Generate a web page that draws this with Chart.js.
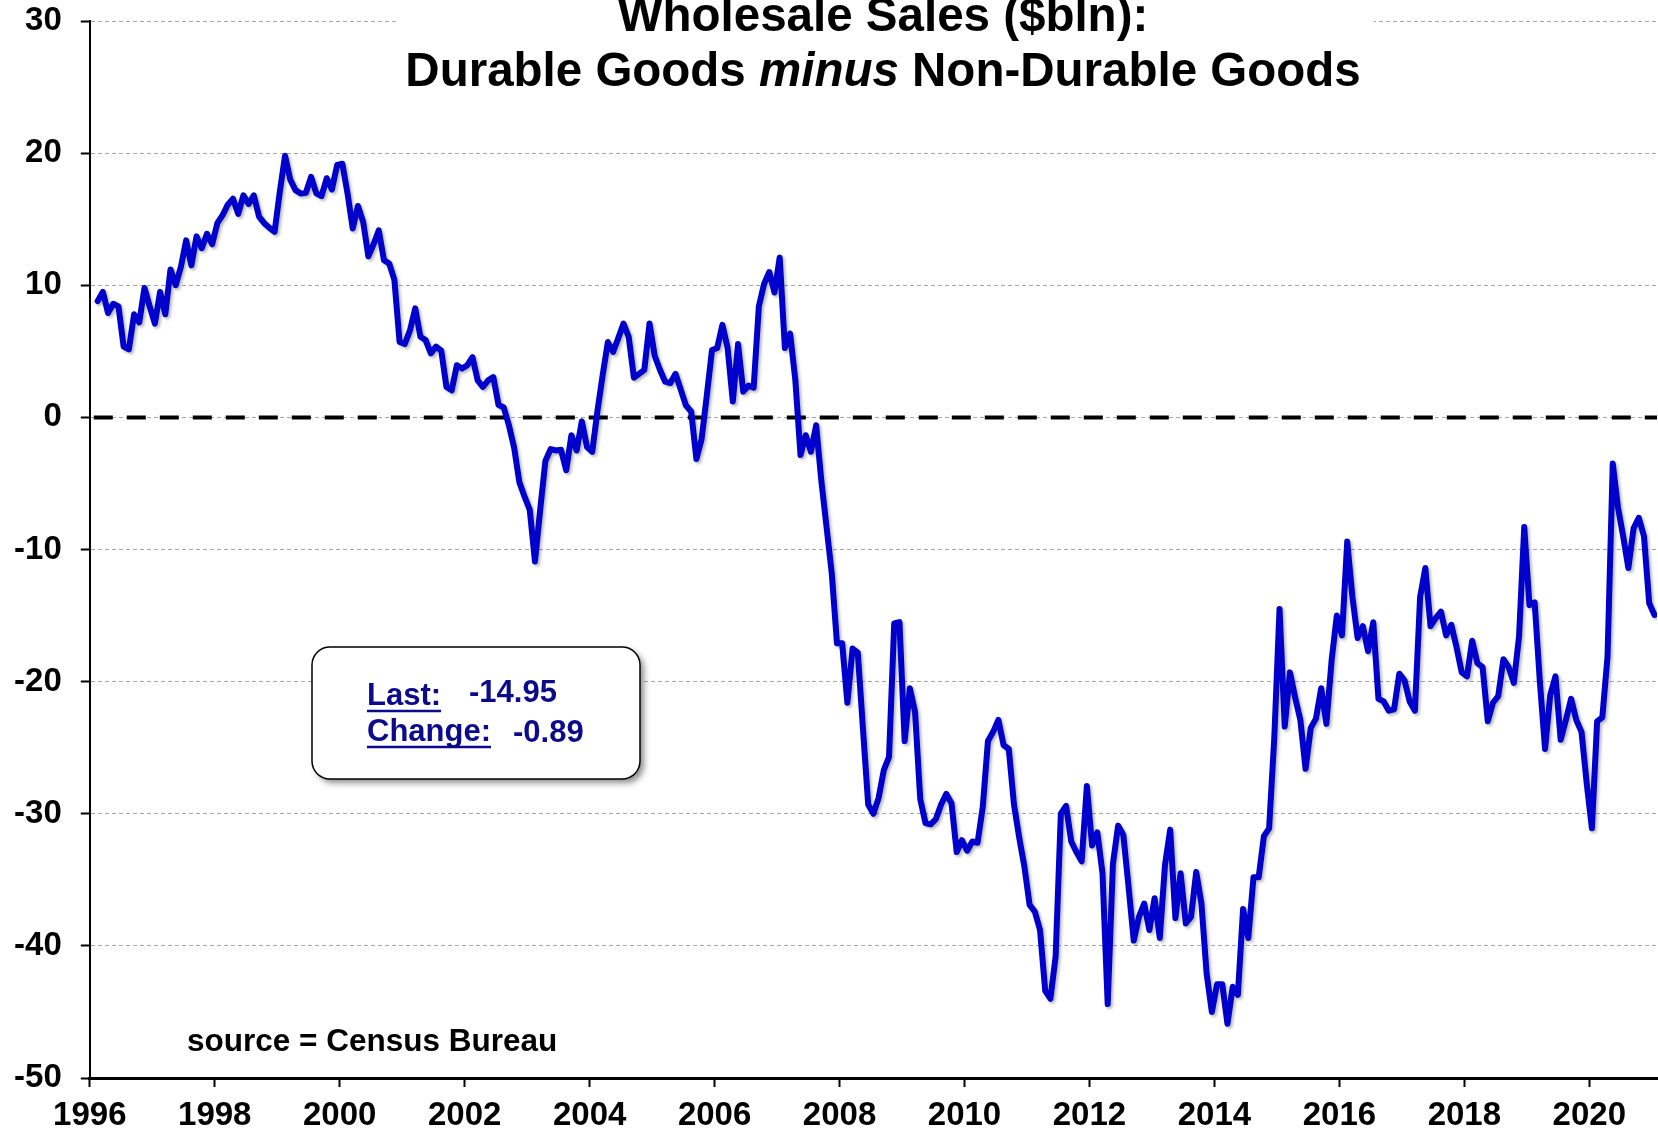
<!DOCTYPE html>
<html>
<head>
<meta charset="utf-8">
<script src="https://cdn.jsdelivr.net/npm/chart.js@4.4.1/dist/chart.umd.min.js"></script>
<style>
  html, body { margin: 0; padding: 0; background: #fff; }
  canvas { display: block; }
</style>
</head>
<body>
<canvas id="myChart" width="1658" height="1131"></canvas>
<script>
"use strict";

// monthly series, Feb 1996 .. Jan 2021 ($bln)
var startYear = 1996;
var startMonth = 2;
var values = [
    8.8, 9.5, 7.9, 8.6, 8.4, 5.35, 5.15, 7.8, 7.2, 9.8, 8.4, 7.1,
    9.5, 7.8, 11.2, 10.0, 11.4, 13.4, 11.5, 13.7, 12.8, 13.9, 13.1, 14.7,
    15.3, 16.1, 16.55, 15.4, 16.8, 16.15, 16.8, 15.2, 14.7, 14.35, 14.05, 17.1,
    19.8, 18.0, 17.2, 16.95, 17.0, 18.2, 16.95, 16.75, 18.1, 17.25, 19.1, 19.2,
    16.95, 14.3, 16.0, 14.8, 12.2, 13.1, 14.15, 11.9, 11.65, 10.4, 5.7, 5.55,
    6.6, 8.25, 6.1, 5.85, 4.85, 5.35, 5.05, 2.3, 2.05, 3.95, 3.7, 3.95,
    4.55, 2.8, 2.3, 2.8, 3.05, 0.95, 0.75, -0.6, -2.3, -4.9, -6.0, -7.0,
    -10.9, -7.0, -3.3, -2.4, -2.5, -2.45, -4.0, -1.35, -2.5, -0.3, -2.25, -2.6,
    0.5, 3.2, 5.7, 4.95, 6.0, 7.1, 6.1, 3.0, 3.3, 3.6, 7.1, 4.65,
    3.6, 2.7, 2.6, 3.3, 2.1, 0.9, 0.45, -3.15, -1.65, 1.65, 5.1, 5.25,
    7.0, 5.25, 1.2, 5.55, 1.95, 2.4, 2.25, 8.4, 10.1, 11.0, 9.45, 12.1,
    5.25, 6.35, 2.85, -2.85, -1.35, -2.6, -0.6, -4.8, -8.3, -11.8, -17.1, -17.1,
    -21.6, -17.5, -17.8, -23.6, -29.3, -30.0, -28.8, -26.7, -25.7, -15.6, -15.5, -24.5,
    -20.5, -22.3, -28.9, -30.7, -30.8, -30.4, -29.3, -28.5, -29.2, -32.9, -32.0, -32.8,
    -32.1, -32.2, -29.5, -24.5, -23.8, -22.9, -24.8, -25.1, -29.3, -31.8, -34.0, -36.9,
    -37.4, -38.8, -43.4, -44.0, -40.8, -30.0, -29.4, -32.1, -32.9, -33.6, -27.9, -32.4,
    -31.4, -34.5, -44.4, -33.8, -30.9, -31.6, -35.5, -39.6, -37.8, -36.8, -38.8, -36.4,
    -39.4, -33.9, -31.2, -37.9, -34.5, -38.3, -37.8, -34.4, -36.8, -42.1, -45.0, -42.9,
    -42.9, -45.9, -43.1, -43.7, -37.2, -39.4, -34.8, -34.8, -31.7, -31.1, -24.2, -14.5,
    -23.4, -19.3, -21.2, -22.9, -26.6, -23.5, -22.8, -20.5, -23.2, -18.4, -15.0, -16.5,
    -9.4, -13.6, -16.7, -15.8, -17.7, -15.5, -21.3, -21.5, -22.2, -22.1, -19.4, -19.9,
    -21.5, -22.2, -13.6, -11.4, -15.8, -15.2, -14.7, -16.5, -15.7, -17.4, -19.3, -19.6,
    -16.9, -18.6, -18.9, -23.0, -21.6, -21.1, -18.3, -18.9, -20.1, -16.6, -8.3, -14.2,
    -14.0, -20.0, -25.1, -21.0, -19.6, -24.4, -22.9, -21.3, -22.9, -23.8, -27.7, -31.1,
    -23.0, -22.7, -18.1, -3.5, -6.8, -9.0, -11.4, -8.4, -7.6, -9.0, -14.06, -14.95
];

var xTicks = [1996, 1998, 2000, 2002, 2004, 2006, 2008, 2010, 2012, 2014, 2016, 2018, 2020];
var yTicks = [-50, -40, -30, -20, -10, 0, 10, 20, 30];

var titleLine1 = "Wholesale Sales ($bln):";
var titleLine2 = ["Durable Goods ", "minus", " Non-Durable Goods"];
var sourceText = "source = Census Bureau";

// points sit in the middle of their month
var points = values.map(function(v, i) {
    return { x: startYear + (startMonth - 1 + i + 0.5) / 12, y: v };
});

var lastVal = values[values.length - 1];
var changeVal = lastVal - values[values.length - 2];

var navy = "#0b0b8c";
var fam = "'Liberation Sans', Arial, sans-serif";
var boldFont = "bold 47.5px " + fam;
var italicFont = "italic bold 47.5px " + fam;

var extras = {
    id: 'extras',
    beforeDatasetsDraw: function(chart) {
        var ctx = chart.ctx;
        var area = chart.chartArea;
        var y0 = chart.scales.y.getPixelForValue(0);
        ctx.save();
        ctx.strokeStyle = "#000";
        ctx.lineWidth = 4;
        ctx.setLineDash([19, 14]);
        ctx.lineDashOffset = -4;
        ctx.beginPath();
        ctx.moveTo(area.left, y0);
        ctx.lineTo(area.right, y0);
        ctx.stroke();
        ctx.restore();

        ctx.save();
        ctx.shadowColor = "rgba(0,0,0,0.28)";
        ctx.shadowBlur = 3;
        ctx.shadowOffsetX = 2;
        ctx.shadowOffsetY = 2;
    },
    afterDatasetsDraw: function(chart) {
        chart.ctx.restore();
    },
    afterDraw: function(chart) {
        var ctx = chart.ctx;
        var cx = 883;

        // title, on a white block that hides the top grid line
        ctx.save();
        ctx.font = boldFont;
        var w1 = ctx.measureText(titleLine2[0]).width;
        var w3 = ctx.measureText(titleLine2[2]).width;
        ctx.font = italicFont;
        var w2 = ctx.measureText(titleLine2[1]).width;
        var total = w1 + w2 + w3;
        var left = cx - total / 2;
        ctx.fillStyle = "#fff";
        ctx.fillRect(left - 9, 0, total + 22, 96);

        ctx.fillStyle = "#000";
        ctx.textBaseline = "alphabetic";
        ctx.font = boldFont;
        ctx.textAlign = "center";
        ctx.fillText(titleLine1, cx, 31);
        ctx.textAlign = "left";
        ctx.fillText(titleLine2[0], left, 86);
        ctx.font = italicFont;
        ctx.fillText(titleLine2[1], left + w1, 86);
        ctx.font = boldFont;
        ctx.fillText(titleLine2[2], left + w1 + w2, 86);
        ctx.restore();

        // source note
        ctx.save();
        ctx.fillStyle = "#000";
        ctx.font = "bold 31.5px " + fam;
        ctx.textBaseline = "alphabetic";
        ctx.fillText(sourceText, 187, 1051);
        ctx.restore();

        // Last / Change box
        var bx = 312, by = 647, bw = 328, bh = 132, r = 18;
        ctx.save();
        ctx.shadowColor = "rgba(0,0,0,0.45)";
        ctx.shadowBlur = 6;
        ctx.shadowOffsetX = 4;
        ctx.shadowOffsetY = 4;
        ctx.fillStyle = "#fff";
        ctx.beginPath();
        ctx.roundRect(bx, by, bw, bh, r);
        ctx.fill();
        ctx.shadowColor = "transparent";
        ctx.lineWidth = 1.5;
        ctx.strokeStyle = "#000";
        ctx.stroke();
        ctx.restore();

        ctx.save();
        ctx.fillStyle = navy;
        ctx.strokeStyle = navy;
        ctx.font = "bold 31px " + fam;
        ctx.textBaseline = "alphabetic";
        var lw = ctx.measureText("Last:").width;
        var cw = ctx.measureText("Change:").width;
        ctx.fillText("Last:", 367, 705);
        ctx.fillText("Change:", 367, 741);
        ctx.fillText(lastVal.toFixed(2), 469, 702);
        ctx.fillText(changeVal.toFixed(2), 513, 742);
        ctx.lineWidth = 2.5;
        ctx.beginPath();
        ctx.moveTo(367, 711); ctx.lineTo(367 + lw, 711);
        ctx.moveTo(367, 747); ctx.lineTo(367 + cw, 747);
        ctx.stroke();
        ctx.restore();
    }
};

var chartCtx = document.getElementById('myChart').getContext('2d');

var wholesaleChart = new Chart(chartCtx, {
    type: 'line',
    data: {
        datasets: [{
            label: 'Durable minus Non-Durable',
            data: points,
            borderColor: '#0000cc',
            borderWidth: 6,
            pointRadius: 0,
            tension: 0,
            fill: false,
            borderJoinStyle: 'round',
            borderCapStyle: 'round'
        }]
    },
    options: {
        responsive: false,
        animation: false,
        events: [],
        layout: { padding: { top: 21, right: 1, left: 0, bottom: 0 } },
        plugins: {
            legend: { display: false },
            tooltip: { enabled: false },
            title: { display: false }
        },
        scales: {
            x: {
                type: 'linear',
                min: startYear,
                max: 2021 + 1 / 12,
                afterBuildTicks: function(scale) {
                    scale.ticks = xTicks.map(function(v) { return { value: v }; });
                },
                afterFit: function(scale) {
                    scale.height = 53;
                    scale.paddingLeft = 0;
                    scale.paddingRight = 0;
                },
                ticks: {
                    color: '#000',
                    padding: 9,
                    maxRotation: 0,
                    autoSkip: false,
                    font: { family: fam, weight: 'bold', size: 33 },
                    callback: function(v) { return String(v); }
                },
                grid: {
                    drawOnChartArea: false,
                    tickLength: 9,
                    tickColor: '#000',
                    tickWidth: 2
                },
                border: { color: '#000', width: 3 }
            },
            y: {
                min: -50,
                max: 30,
                afterBuildTicks: function(scale) {
                    scale.ticks = yTicks.map(function(v) { return { value: v }; });
                },
                afterFit: function(scale) {
                    scale.width = 89.8;
                    scale.paddingTop = 0;
                    scale.paddingBottom = 0;
                },
                ticks: {
                    color: '#000',
                    padding: 19,
                    font: { family: fam, weight: 'bold', size: 33 }
                },
                grid: {
                    color: '#a6a6a6',
                    lineWidth: 1,
                    tickLength: 9,
                    tickColor: '#000',
                    tickWidth: 2
                },
                border: { color: '#000', width: 2, dash: [4, 3] }
            }
        }
    },
    plugins: [extras]
});
</script>
</body>
</html>
